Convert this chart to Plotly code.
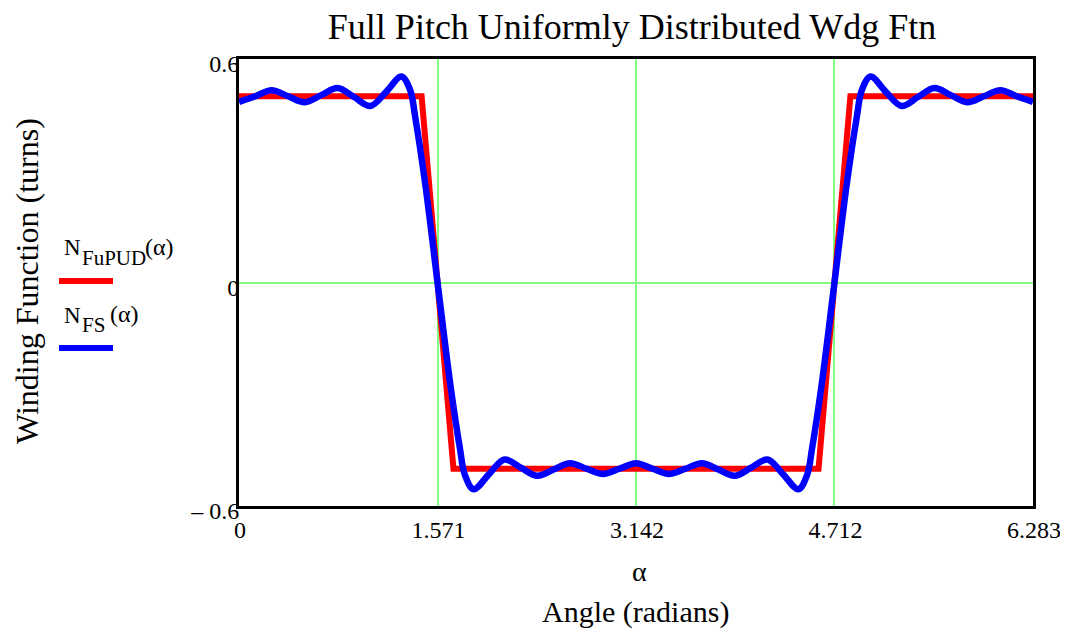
import plotly.graph_objects as go

# ---- data ----
alpha_fu = [0.000, 1.445, 1.697, 4.586, 4.838, 6.283]
n_fupud = [0.5, 0.5, -0.5, -0.5, 0.5, 0.5]

alpha_fs = [0.000, 0.129, 0.258, 0.389, 0.520, 0.650, 0.780, 0.910, 1.040, 1.165,
            1.285, 1.354, 1.394, 1.473, 1.571, 1.669, 1.748, 1.788, 1.857, 1.977,
            2.100, 2.230, 2.360, 2.490, 2.620, 2.750, 2.880, 3.010, 3.142, 3.273,
            3.403, 3.533, 3.663, 3.793, 3.923, 4.053, 4.183, 4.306, 4.426, 4.495,
            4.535, 4.614, 4.712, 4.810, 4.889, 4.929, 4.998, 5.118, 5.243, 5.373,
            5.503, 5.633, 5.763, 5.894, 6.025, 6.154, 6.283]
n_fs = [0.485, 0.500, 0.516, 0.500, 0.484, 0.503, 0.522, 0.498, 0.474, 0.512,
        0.553, 0.517, 0.445, 0.266, 0.000, -0.266, -0.445, -0.517, -0.555, -0.515,
        -0.475, -0.497, -0.519, -0.502, -0.485, -0.500, -0.514, -0.500, -0.485, -0.500,
        -0.514, -0.500, -0.485, -0.502, -0.519, -0.497, -0.475, -0.515, -0.555, -0.517,
        -0.445, -0.266, 0.000, 0.266, 0.445, 0.517, 0.553, 0.512, 0.474, 0.498,
        0.522, 0.503, 0.484, 0.500, 0.516, 0.500, 0.485]

x_tickvals = [0, 1.571, 3.142, 4.712, 6.283]
x_ticktext = ["0", "1.571", "3.142", "4.712", "6.283"]
y_tickvals = [-0.6, 0, 0.6]
y_ticktext = ["\u2013 0.6", "0", "0.6"]

title_text = "Full Pitch Uniformly Distributed Wdg Ftn"
ytitle_text = "Winding Function (turns)"
xlabel_text = "\u03b1"
xtitle_text = "Angle (radians)"

# ---- layout geometry (screen pixels; page body has an 8px margin) ----
OFF = 8
W, H = 1068 - 2 * OFF, 636 - 2 * OFF
PL, PR, PT, PB = 239, 1033, 59, 506          # plot area in screen px
L, T = PL - OFF, PT - OFF
PW, PH = PR - PL, PB - PT
R, B = W - L - PW, H - T - PH


def px(x):
    return (x - PL) / PW


def py(y):
    return (PB - y) / PH


FONT = "Liberation Serif, Times New Roman, serif"
GRID = "#80ff80"

fig = go.Figure()
fig.add_trace(go.Scatter(x=alpha_fu, y=n_fupud, mode="lines",
                         line=dict(color="#ff0000", width=6),
                         showlegend=False))
fig.add_trace(go.Scatter(x=alpha_fs, y=n_fs, mode="lines",
                         line=dict(color="#0000ff", width=6.5, shape="spline", smoothing=1.0),
                         showlegend=False))


def txt(t, x, y, size, xanchor="left", **kw):
    return dict(text=t, x=px(x), y=py(y), xref="paper", yref="paper", showarrow=False,
                xanchor=xanchor, yanchor="middle", borderpad=0,
                font=dict(size=size, family=FONT, color="black"), **kw)


annotations = [
    txt(xlabel_text, 639, 571, 28, xanchor="center"),
    txt(xtitle_text, 635, 612, 30, xanchor="center"),
    txt(ytitle_text, 27, 281, 32, xanchor="center", textangle=-90),
    # legend texts
    txt("N", 63, 248, 23),
    txt("FuPUD", 81, 258, 21),
    txt("(\u03b1)", 144, 247, 24),
    txt("N", 63, 315, 23),
    txt("FS", 81, 325, 21),
    txt("(\u03b1)", 109, 314, 24),
]

shapes = [
    dict(type="line", xref="paper", yref="paper", x0=px(59), x1=px(113), y0=py(281), y1=py(281),
         line=dict(color="#ff0000", width=6)),
    dict(type="line", xref="paper", yref="paper", x0=px(59), x1=px(113), y0=py(348), y1=py(348),
         line=dict(color="#0000ff", width=6)),
]

fig.update_layout(
    width=W, height=H,
    margin=dict(l=L, r=R, t=T, b=B, pad=0, autoexpand=False),
    paper_bgcolor="white", plot_bgcolor="white",
    font=dict(family=FONT, color="black", size=24),
    title=dict(text=title_text, x=px(632), xref="paper", xanchor="center",
               y=1 - (26 - OFF) / H, yanchor="middle", yref="container",
               font=dict(size=36, family=FONT, color="black")),
    annotations=annotations,
    shapes=shapes,
    showlegend=False,
)
fig.update_xaxes(range=[0, 6.283], tickvals=x_tickvals, ticktext=x_ticktext,
                 showgrid=True, gridcolor=GRID, gridwidth=1.5, zeroline=False,
                 showline=True, linecolor="black", linewidth=3, mirror=True,
                 automargin=False,
                 ticks="", ticklabelshift=1, ticklabeloverflow="allow",
                 tickfont=dict(size=24, family=FONT, color="black"))
fig.update_yaxes(range=[-0.6, 0.6], tickvals=y_tickvals, ticktext=y_ticktext,
                 showgrid=True, gridcolor=GRID, gridwidth=1.5, zeroline=False,
                 showline=True, linecolor="black", linewidth=3, mirror=True,
                 automargin=False,
                 ticks="", ticklabelshift=5, ticklabelstandoff=-8,
                 ticklabeloverflow="allow",
                 tickfont=dict(size=24, family=FONT, color="black"))

fig.write_html("out.html")
